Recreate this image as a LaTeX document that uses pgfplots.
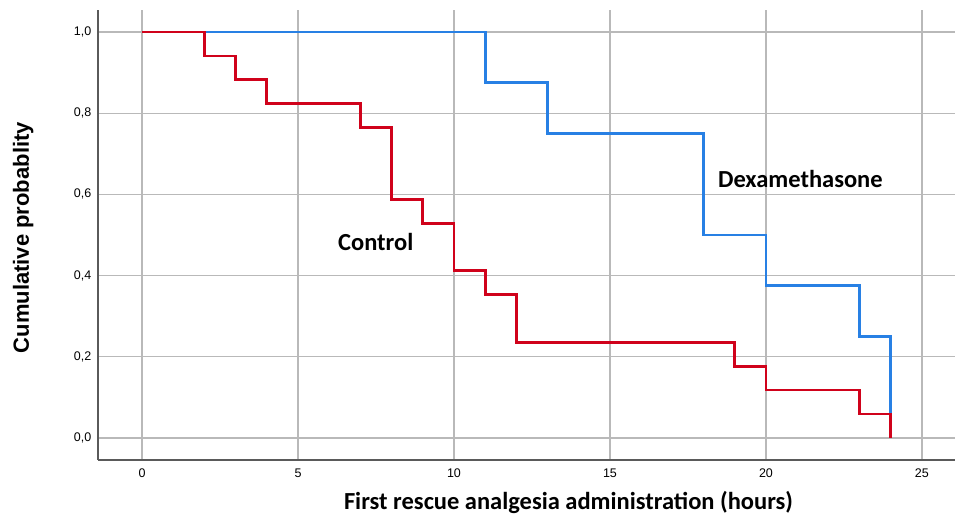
\documentclass[border=0pt]{standalone}
\usepackage{pgfplots}
\pgfplotsset{compat=1.18}
\usepackage{fontspec}
\setmainfont{Liberation Sans}
\newfontfamily\calfont{Carlito}
\definecolor{kmred}{RGB}{208,2,27}
\definecolor{kmblue}{RGB}{40,128,228}
\definecolor{gridc}{RGB}{185,185,185}
\definecolor{axc}{RGB}{90,90,90}
\begin{document}
\begin{tikzpicture}[x=1pt,y=1pt]
\useasboundingbox (0,0) rectangle (955,518);
\begin{axis}[
  at={(98pt,58pt)}, anchor=south west,
  scale only axis, width=857pt, height=450pt,
  xmin=-1.41, xmax=26.06, ymin=-0.054, ymax=1.054,
  axis lines=left, axis line style={axc, line width=1.4pt, -},
  xtick={0,5,...,25}, ytick={0,0.2,...,1.0},
  grid=major, major grid style={gridc, line width=1.2pt},
  tick style={draw=none},
  yticklabel style={/pgf/number format/fixed, /pgf/number format/fixed zerofill, /pgf/number format/precision=1, /pgf/number format/use comma, xshift=-1pt},
  /pgf/number format/assume math mode=true,
  ticklabel style={font=\fontsize{12.5}{14}\selectfont},
  xticklabel style={yshift=-3pt},
  xlabel={\calfont\bfseries\fontsize{24.5}{28}\selectfont First rescue analgesia administration (hours)},
  ylabel={\bfseries\fontsize{22}{26}\selectfont Cumulative probablity},
  xlabel style={at={(axis description cs:0.549,0)}, anchor=base, yshift=-50pt, inner sep=0pt},
  ylabel style={at={(axis description cs:0,0.494)}, anchor=base, yshift=69pt, inner sep=0pt},
  clip=false,
]
\addplot[kmblue, line width=2.7pt, const plot] coordinates {
(0,1.0) (11,0.875) (13,0.75) (18,0.5) (20,0.375) (23,0.25) (24,0.0) (24,0.0)};
\addplot[kmred, line width=2.7pt, const plot] coordinates {
(0,1.0) (2,0.941) (3,0.882) (4,0.824) (7,0.765) (8,0.588) (9,0.529) (10,0.412) (11,0.353) (12,0.235) (19,0.176) (20,0.118) (23,0.059) (24,0.0) (24,0.0)};
\node[font=\calfont\bfseries\fontsize{24.5}{28}\selectfont, anchor=base west, inner sep=0pt] at (axis cs:18.46,0.618) {Dexamethasone};
\node[font=\calfont\bfseries\fontsize{24.5}{28}\selectfont, anchor=base west, inner sep=0pt] at (axis cs:6.28,0.461) {Control};
\end{axis}
\end{tikzpicture}
\end{document}
